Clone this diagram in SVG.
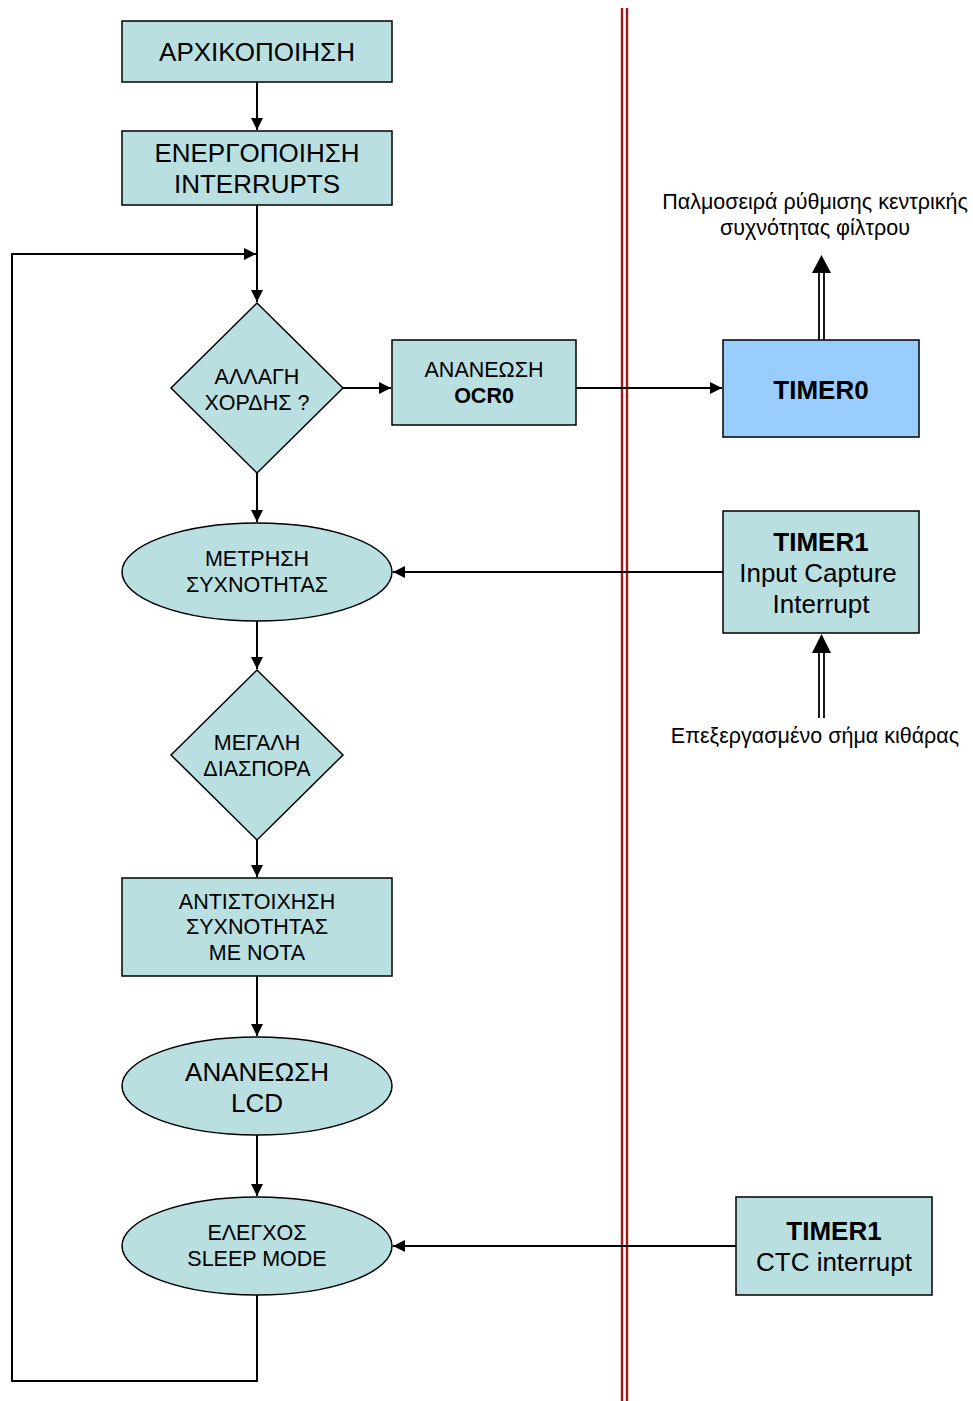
<svg xmlns="http://www.w3.org/2000/svg" width="973" height="1401" viewBox="0 0 973 1401">
<style>
.n{fill:#b9dfe1;stroke:#000;stroke-width:1.5}
.b{fill:#99ccff;stroke:#000;stroke-width:1.5}
.c{fill:none;stroke:#000;stroke-width:2}
text{font-family:"Liberation Sans",Arial,sans-serif;fill:#000;text-anchor:middle}
.L{font-size:26px}
.S{font-size:21.5px}
.B{font-weight:bold}
.r{stroke:#a01818;stroke-width:2.4}
</style>
<defs>
<marker id="a" viewBox="0 0 10 10" refX="10" refY="5" markerWidth="6" markerHeight="6" orient="auto" markerUnits="strokeWidth"><path d="M0,0L10,5L0,10z" fill="#000"/></marker>
</defs>
<g id="divider"><line class="r" x1="622" y1="8" x2="622" y2="1401"/><line class="r" x1="627" y1="8" x2="627" y2="1401"/></g>
<g id="connectors">
<line class="c" x1="257" y1="82" x2="257" y2="130" marker-end="url(#a)"/>
<line class="c" x1="257" y1="205" x2="257" y2="302" marker-end="url(#a)"/>
<polyline class="c" points="257,1295 257,1381 12,1381 12,254 256,254" marker-end="url(#a)"/>
<line class="c" x1="343" y1="388" x2="391" y2="388" marker-end="url(#a)"/>
<line class="c" x1="576" y1="388" x2="722" y2="388" marker-end="url(#a)"/>
<line class="c" x1="257" y1="473" x2="257" y2="522" marker-end="url(#a)"/>
<line class="c" x1="723" y1="572" x2="393" y2="572" marker-end="url(#a)"/>
<line class="c" x1="257" y1="621" x2="257" y2="669" marker-end="url(#a)"/>
<line class="c" x1="257" y1="840" x2="257" y2="877" marker-end="url(#a)"/>
<line class="c" x1="257" y1="976" x2="257" y2="1036" marker-end="url(#a)"/>
<line class="c" x1="257" y1="1135" x2="257" y2="1196" marker-end="url(#a)"/>
<line class="c" x1="736" y1="1246" x2="393" y2="1246" marker-end="url(#a)"/>
<g id="dbl1"><line x1="819" y1="340" x2="819" y2="272" stroke="#000" stroke-width="1.8"/><line x1="824" y1="340" x2="824" y2="272" stroke="#000" stroke-width="1.8"/><path d="M812,273L821.5,255L831,273z" fill="#000"/></g>
<g id="dbl2"><line x1="819" y1="718" x2="819" y2="651" stroke="#000" stroke-width="1.8"/><line x1="824" y1="718" x2="824" y2="651" stroke="#000" stroke-width="1.8"/><path d="M812,653L821.5,634L831,653z" fill="#000"/></g>
</g>
<g id="init"><rect class="n" x="122" y="21" width="270" height="61"/><text class="L" x="257" y="61">ΑΡΧΙΚΟΠΟΙΗΣΗ</text></g>
<g id="enable"><rect class="n" x="122" y="131" width="270" height="74"/><text class="L" x="257" y="162">ΕΝΕΡΓΟΠΟΙΗΣΗ</text><text class="L" x="257" y="193">INTERRUPTS</text></g>
<g id="chord"><path class="n" d="M257,303L343,388L257,473L171,388z"/><text class="S" x="257" y="384">ΑΛΛΑΓΗ</text><text class="S" x="257" y="410">ΧΟΡΔΗΣ ?</text></g>
<g id="ocr"><rect class="n" x="392" y="340" width="184" height="85"/><text class="S" x="484" y="377">ΑΝΑΝΕΩΣΗ</text><text class="S B" x="484" y="403">OCR0</text></g>
<g id="timer0"><rect class="b" x="723" y="340" width="196" height="97"/><text class="L B" x="821" y="399">TIMER0</text></g>
<g id="out0"><text class="S" x="815" y="209">Παλμοσειρά ρύθμισης κεντρικής</text><text class="S" x="815" y="235">συχνότητας φίλτρου</text></g>
<g id="measure"><ellipse class="n" cx="257" cy="572" rx="135" ry="49"/><text class="S" x="257" y="566">ΜΕΤΡΗΣΗ</text><text class="S" x="257" y="592">ΣΥΧΝΟΤΗΤΑΣ</text></g>
<g id="timer1ic"><rect class="n" x="723" y="511" width="196" height="122"/><text class="L B" x="821" y="551">TIMER1</text><text class="L" x="818" y="582">Input Capture</text><text class="L" x="821" y="613">Interrupt</text></g>
<g id="in1"><text class="S" x="815" y="743">Επεξεργασμένο σήμα κιθάρας</text></g>
<g id="spread"><path class="n" d="M257,670L343,755L257,840L171,755z"/><text class="S" x="257" y="750">ΜΕΓΑΛΗ</text><text class="S" x="257" y="776">ΔΙΑΣΠΟΡΑ</text></g>
<g id="map"><rect class="n" x="122" y="878" width="270" height="98"/><text class="S" x="257" y="909">ΑΝΤΙΣΤΟΙΧΗΣΗ</text><text class="S" x="257" y="934">ΣΥΧΝΟΤΗΤΑΣ</text><text class="S" x="257" y="960">ΜΕ ΝΟΤΑ</text></g>
<g id="lcd"><ellipse class="n" cx="257" cy="1086" rx="135" ry="49"/><text class="L" x="257" y="1081">ΑΝΑΝΕΩΣΗ</text><text class="L" x="257" y="1112">LCD</text></g>
<g id="sleep"><ellipse class="n" cx="257" cy="1246" rx="135" ry="49"/><text class="S" x="257" y="1240">ΕΛΕΓΧΟΣ</text><text class="S" x="257" y="1266">SLEEP MODE</text></g>
<g id="timer1ctc"><rect class="n" x="736" y="1197" width="196" height="98"/><text class="L B" x="834" y="1240">TIMER1</text><text class="L" x="834" y="1271">CTC interrupt</text></g>
</svg>
